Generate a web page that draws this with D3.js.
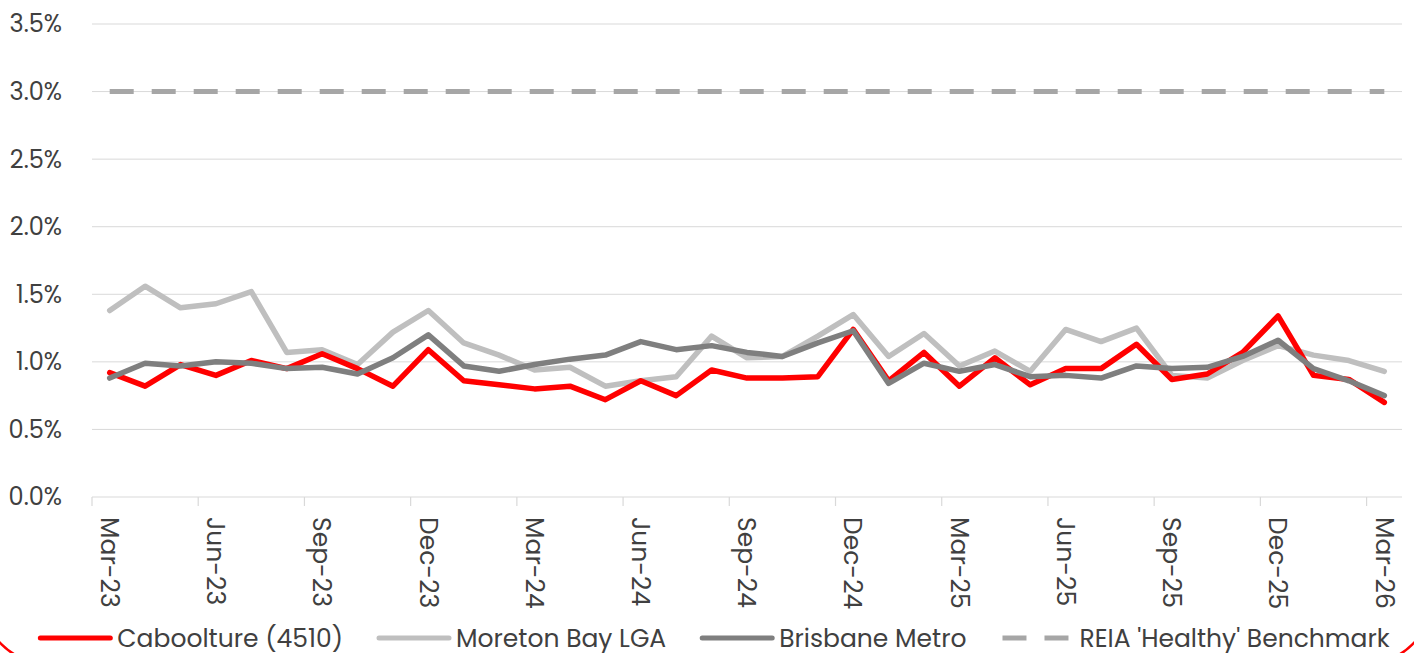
<!DOCTYPE html>
<html>
<head>
<meta charset="utf-8">
<script src="https://cdn.jsdelivr.net/npm/d3@7"></script>
<style>
  body { margin: 0; background: #ffffff; overflow: hidden; }
  svg { display: block; }
  text { font-family: Poppins, "Open Sans", sans-serif; fill: #404040; }
</style>
</head>
<body>
<svg id="chart" width="1414" height="653"></svg>
<script>
// months shown on the x axis (monthly categories)
const months = ["Mar-23","Apr-23","May-23","Jun-23","Jul-23","Aug-23","Sep-23","Oct-23","Nov-23","Dec-23",
  "Jan-24","Feb-24","Mar-24","Apr-24","May-24","Jun-24","Jul-24","Aug-24","Sep-24","Oct-24","Nov-24","Dec-24",
  "Jan-25","Feb-25","Mar-25","Apr-25","May-25","Jun-25","Jul-25","Aug-25","Sep-25","Oct-25","Nov-25","Dec-25",
  "Jan-26","Feb-26","Mar-26"]

// vacancy rates, %
const caboolture = [0.92,0.82,0.98,0.90,1.01,0.95,1.06,0.95,0.82,1.09,0.86,0.83,0.80,0.82,0.72,0.86,0.75,0.94,0.88,
  0.88,0.89,1.24,0.86,1.07,0.82,1.03,0.83,0.95,0.95,1.13,0.87,0.91,1.07,1.34,0.90,0.87,0.70]
const moretonBay = [1.38,1.56,1.40,1.43,1.52,1.07,1.09,0.98,1.22,1.38,1.14,1.05,0.94,0.96,0.82,0.86,0.89,1.19,1.03,
  1.04,1.19,1.35,1.04,1.21,0.97,1.08,0.93,1.24,1.15,1.25,0.90,0.88,1.01,1.12,1.05,1.01,0.93]
const brisbane = [0.88,0.99,0.97,1.00,0.99,0.95,0.96,0.91,1.03,1.20,0.97,0.93,0.98,1.02,1.05,1.15,1.09,1.12,1.07,
  1.04,1.14,1.23,0.84,0.99,0.93,0.98,0.89,0.90,0.88,0.97,0.95,0.96,1.04,1.16,0.95,0.86,0.75]
const benchmark = 3.0

const yTicks = [0, 0.5, 1.0, 1.5, 2.0, 2.5, 3.0, 3.5]

const svg = d3.select("#chart")

// red card border, only corners peek in at the bottom
svg.append("rect")
    .attr("x", -16).attr("y", -300)
    .attr("width", 1446).attr("height", 962)
    .attr("rx", 60)
    .attr("fill", "none")
    .attr("stroke", "#ff0000")
    .attr("stroke-width", 2.5)

const plotLeft = 92, plotRight = 1402, plotTop = 24, plotBottom = 497

const x = d3.scaleBand().domain(months).range([plotLeft, plotRight]).padding(0)
const y = d3.scaleLinear().domain([0, 3.5]).range([plotBottom, plotTop])
const cx = m => x(m) + x.bandwidth() / 2

// gridlines
svg.append("g")
    .selectAll("line")
    .data(yTicks.filter(d => d > 0))
    .join("line")
    .attr("x1", plotLeft).attr("x2", plotRight)
    .attr("y1", d => y(d)).attr("y2", d => y(d))
    .attr("stroke", "#d9d9d9")
    .attr("stroke-width", 1)

// y labels
svg.append("g")
    .selectAll("text")
    .data(yTicks)
    .join("text")
    .attr("x", 62)
    .attr("y", d => y(d))
    .attr("dy", "0.35em")
    .attr("text-anchor", "end")
    .style("font-size", "24px")
    .text(d => d.toFixed(1) + "%")

// x axis line + ticks at category boundaries every 3 months
svg.append("line")
    .attr("x1", plotLeft).attr("x2", plotRight)
    .attr("y1", plotBottom).attr("y2", plotBottom)
    .attr("stroke", "#d9d9d9").attr("stroke-width", 1.2)

const tickMonths = months.filter((m, i) => i % 3 === 0)
svg.append("g")
    .selectAll("line")
    .data(tickMonths)
    .join("line")
    .attr("x1", d => x(d)).attr("x2", d => x(d))
    .attr("y1", plotBottom).attr("y2", plotBottom + 9)
    .attr("stroke", "#d9d9d9").attr("stroke-width", 1.2)

svg.append("g")
    .selectAll("text")
    .data(tickMonths)
    .join("text")
    .attr("transform", d => `translate(${cx(d)},517) rotate(90)`)
    .attr("dy", "0.35em")
    .attr("text-anchor", "start")
    .style("font-size", "25px")
    .text(d => d)

// benchmark dashed line
svg.append("line")
    .attr("x1", cx(months[0])).attr("x2", cx(months[months.length - 1]))
    .attr("y1", y(benchmark)).attr("y2", y(benchmark))
    .attr("stroke", "#a6a6a6")
    .attr("stroke-width", 5)
    .attr("stroke-dasharray", "24,18")

const line = d3.line().x((d, i) => cx(months[i])).y(d => y(d))

const series = [
    {name: "Caboolture (4510)", values: caboolture, color: "#ff0000"},
    {name: "Moreton Bay LGA", values: moretonBay, color: "#bfbfbf"},
    {name: "Brisbane Metro", values: brisbane, color: "#7f7f7f"}
]

// draw order: moreton, caboolture, brisbane on top
;[series[1], series[0], series[2]].forEach(s => {
    svg.append("path")
        .attr("d", line(s.values))
        .attr("fill", "none")
        .attr("stroke", s.color)
        .attr("stroke-width", 5.5)
        .attr("stroke-linejoin", "round")
        .attr("stroke-linecap", "round")
})

// legend
const legendItems = series.concat([{name: "REIA 'Healthy' Benchmark", color: "#a6a6a6", dash: true}])
const lg = svg.append("g")
let lx = 0
legendItems.forEach(item => {
    const g = lg.append("g").attr("transform", `translate(${lx},0)`)
    g.append("line")
        .attr("x1", 0).attr("x2", 70)
        .attr("y1", 0).attr("y2", 0)
        .attr("stroke", item.color)
        .attr("stroke-width", 5)
        .attr("stroke-linecap", item.dash ? "butt" : "round")
        .attr("stroke-dasharray", item.dash ? "24,18" : null)
    const t = g.append("text")
        .attr("x", 77).attr("y", 0)
        .attr("dy", "0.35em")
        .style("font-size", "25px")
        .text(item.name)
    lx += 77 + t.node().getComputedTextLength() + 36
})
const lw = lx - 36
lg.attr("transform", `translate(${715 - lw / 2},638)`)
</script>
</body>
</html>
